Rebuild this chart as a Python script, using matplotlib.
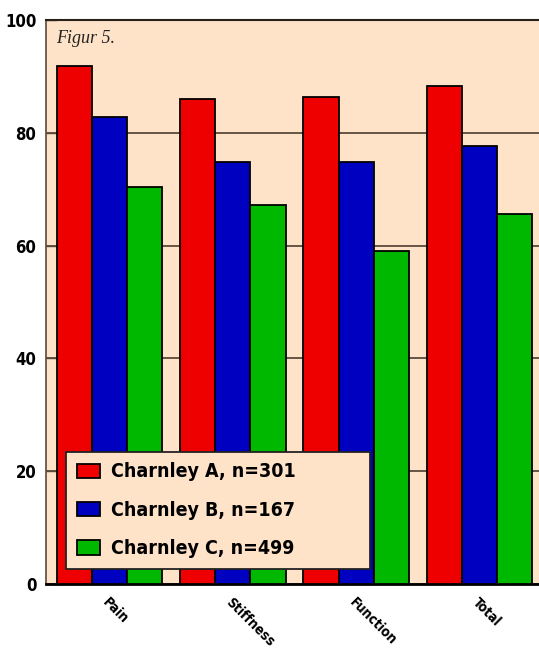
import matplotlib
matplotlib.use("Agg")
import matplotlib.pyplot as plt
import numpy as np
from matplotlib import font_manager

categories = ["Pain", "Stiffness", "Function", "Total"]
series_names = ["Charnley A, n=301", "Charnley B, n=167", "Charnley C, n=499"]
charnley_a = [91.9, 86.0, 86.4, 88.3]
charnley_b = [82.8, 74.8, 74.8, 77.6]
charnley_c = [70.4, 67.2, 59.0, 65.6]
y_ticks = [0, 20, 40, 60, 80, 100]

colors = ["#EE0000", "#0000C0", "#00B800"]
bg = "#FEE3C8"

# find a condensed bold font if one is installed
cands = []
for f in font_manager.fontManager.ttflist:
    nm = (f.name + " " + f.fname).lower()
    if ("condensed" in nm or "narrow" in nm or f.stretch in ("condensed", "semi-condensed")) \
            and f.style == "normal":
        w = f.weight if isinstance(f.weight, int) else 700 if "bold" in str(f.weight) else 400
        cands.append((abs(w - 700), f.fname))
if cands:
    cands.sort()
    cond_fp = font_manager.FontProperties(fname=cands[0][1])
else:
    cond_fp = font_manager.FontProperties(family="Liberation Sans", weight="bold")

def fp(size):
    p = cond_fp.copy()
    p.set_size(size)
    return p

fig = plt.figure(figsize=(5.39, 6.53), dpi=100)
ax = fig.add_axes([46/539, 1-584/653, 1-46/539 + 0.002, (584-20)/653])
ax.set_facecolor(bg)

x = np.arange(len(categories))
w = 0.285
for i, (vals, c, name) in enumerate(zip([charnley_a, charnley_b, charnley_c], colors, series_names)):
    ax.bar(x + (i-1)*w, vals, width=w, color=c, edgecolor="black", linewidth=1.3,
           label=name, zorder=3)

ax.set_ylim(0, 100)
ax.set_xlim(-0.513, 3.49)
ax.set_yticks(y_ticks)
ax.set_yticklabels([str(t) for t in y_ticks], fontproperties=fp(12))
ax.yaxis.grid(True, color="#5a4a3a", linewidth=1.3, zorder=0)
ax.set_axisbelow(True)
ax.tick_params(axis="y", direction="in", length=8, width=1, color="#5a4a3a", pad=7)
ax.tick_params(axis="x", length=0, pad=8)
ax.set_xticks(x)
ax.set_xticklabels(categories, rotation=-45, ha="left", va="top", rotation_mode="anchor",
                   fontproperties=fp(10))

ax.spines["right"].set_visible(False)
ax.spines["top"].set_color("#2a2018")
ax.spines["top"].set_linewidth(1.5)
ax.spines["left"].set_color("#5a4a3a")
ax.spines["left"].set_linewidth(1.2)
ax.spines["bottom"].set_color("black")
ax.spines["bottom"].set_linewidth(2)

ax.text(0.02, 0.983, "Figur 5.", transform=ax.transAxes, fontfamily="Liberation Serif",
        fontstyle="italic", fontsize=13, color="#222222", va="top", ha="left")

leg = ax.legend(loc="lower left", bbox_to_anchor=(20/493, 15/564, 303/493, 119/564), mode="expand",
                prop=fp(14),
                fancybox=False, frameon=True, facecolor=bg, edgecolor="#222222", framealpha=1,
                handlelength=1.2, handleheight=0.75, labelspacing=1.0, borderpad=0.55,
                handletextpad=0.55, borderaxespad=0)
leg.get_frame().set_linewidth(1.3)
leg.set_zorder(5)

fig.savefig("out.png", dpi=100)
